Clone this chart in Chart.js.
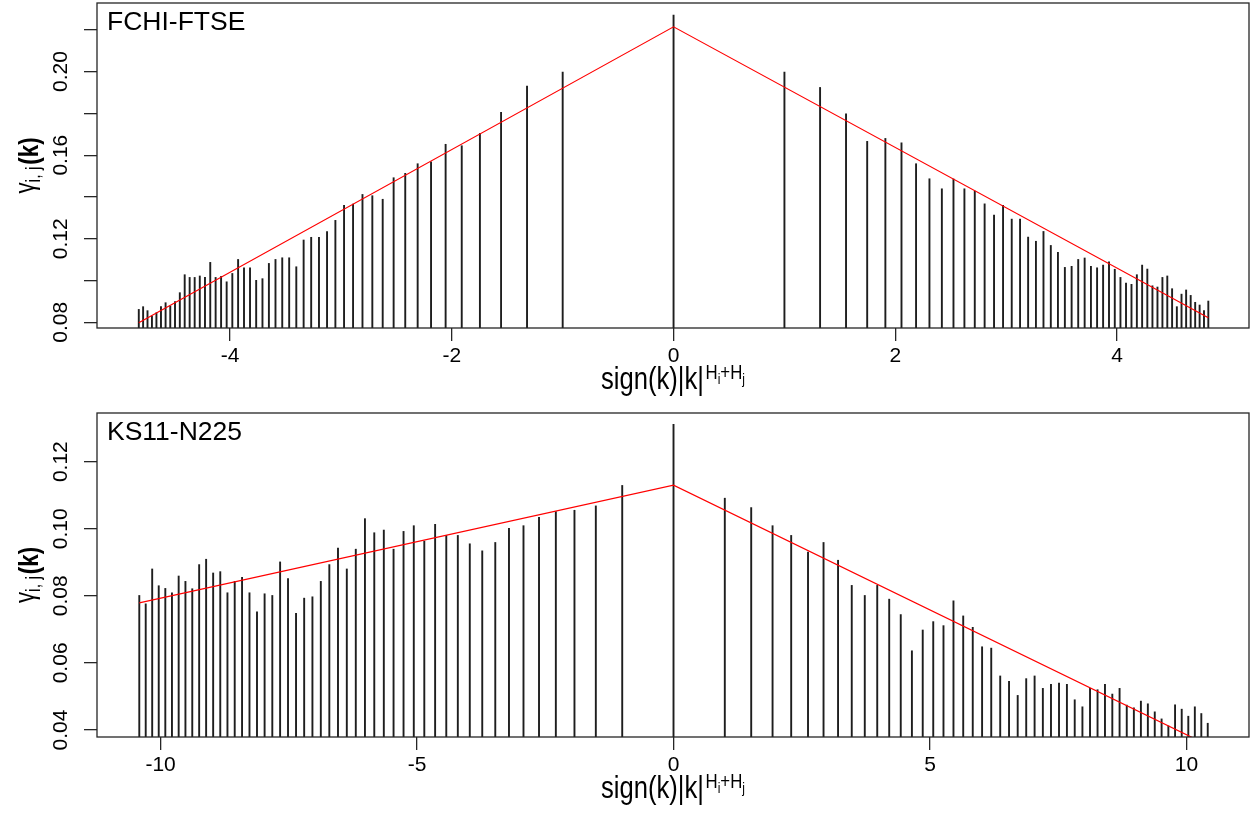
<!DOCTYPE html>
<html><head><meta charset="utf-8">
<script src="https://cdn.jsdelivr.net/npm/chart.js@4.4.0/dist/chart.umd.min.js"></script>
<style>
html,body{margin:0;padding:0;background:#fff;}
#wrap{position:relative;width:1253px;height:813px;background:#fff;overflow:hidden}
.pane{position:absolute;left:0;width:1253px}
canvas{display:block}
</style></head><body>
<div id="wrap">
<div class="pane" style="top:0;height:406px"><canvas id="c1" width="1253" height="406"></canvas></div>
<div class="pane" style="top:406px;height:407px"><canvas id="c2" width="1253" height="407"></canvas></div>
</div>
<script>
// ---- data ----
const lags = Array.from({length: 101}, (_, i) => i - 50);   // k = -50 .. 50

// panel 1: FCHI-FTSE
const panel1Name = 'FCHI-FTSE';
const panel1Exponent = 0.4022;   // H_i + H_j
const panel1Gamma = [
  0.0862,0.0875,0.0856,0.0830,0.0846,0.0875,0.0894,0.0878,0.0899,0.0942,
  0.1028,0.1015,0.1015,0.1022,0.1015,0.1087,0.1015,0.1020,0.0994,0.1034,
  0.1101,0.1061,0.1061,0.1001,0.1009,0.1082,0.1101,0.1109,0.1109,0.1066,
  0.1194,0.1207,0.1207,0.1234,0.1288,0.1360,0.1366,0.1412,0.1406,0.1389,
  0.1492,0.1513,0.1559,0.1568,0.1652,0.1645,0.1704,0.1805,0.1931,0.1998,
  0.2270,
  0.1998,0.1924,0.1798,0.1666,0.1680,0.1659,0.1559,0.1487,0.1439,0.1486,
  0.1439,0.1428,0.1367,0.1313,0.1360,0.1294,0.1294,0.1208,0.1188,0.1235,
  0.1168,0.1135,0.1063,0.1068,0.1101,0.1108,0.1068,0.1061,0.1074,0.1089,
  0.1054,0.1015,0.0988,0.0982,0.1028,0.1074,0.1055,0.0975,0.0969,0.1015,
  0.1022,0.0961,0.0875,0.0935,0.0955,0.0929,0.0896,0.0883,0.0856,0.0902
];
const panel1FitLags = [-50, 0, 50];
const panel1Fit = [0.0798, 0.2214, 0.0822];
const panel1XTicks = [-4, -2, 0, 2, 4];
const panel1XLabels = ['-4', '-2', '0', '2', '4'];
const panel1YTicks = [0.08, 0.10, 0.12, 0.14, 0.16, 0.18, 0.20, 0.22];
const panel1YLabels = ['0.08', '', '0.12', '', '0.16', '', '0.20', ''];

// panel 2: KS11-N225
const panel2Name = 'KS11-N225';
const panel2Exponent = 0.599;
const panel2Gamma = [
  0.0801,0.0776,0.0880,0.0830,0.0822,0.0809,0.0859,0.0843,0.0821,0.0893,
  0.0909,0.0868,0.0872,0.0809,0.0843,0.0855,0.0809,0.0752,0.0806,0.0801,
  0.0901,0.0851,0.0748,0.0793,0.0797,0.0843,0.0893,0.0942,0.0880,0.0939,
  0.1030,0.0988,0.0996,0.0939,0.0992,0.1009,0.0963,0.1013,0.0980,0.0980,
  0.0955,0.0934,0.0959,0.1001,0.1009,0.1034,0.1051,0.1055,0.1068,0.1129,
  0.1311,
  0.1091,0.1063,0.1009,0.0980,0.0930,0.0959,0.0906,0.0831,0.0801,0.0831,
  0.0790,0.0744,0.0636,0.0698,0.0723,0.0711,0.0785,0.0740,0.0706,0.0648,
  0.0644,0.0561,0.0545,0.0503,0.0553,0.0561,0.0524,0.0536,0.0540,0.0536,
  0.0490,0.0469,0.0524,0.0520,0.0536,0.0507,0.0524,0.0474,0.0466,0.0486,
  0.0478,0.0454,0.0433,0.0412,0.0475,0.0462,0.0441,0.0469,0.0449,0.0420
];
const panel2FitLags = [-50, 0, 50];
const panel2Fit = [0.0779, 0.1130, 0.0355];
const panel2XTicks = [-10, -5, 0, 5, 10];
const panel2XLabels = ['-10', '-5', '0', '5', '10'];
const panel2YTicks = [0.04, 0.06, 0.08, 0.10, 0.12];
const panel2YLabels = ['0.04', '0.06', '0.08', '0.10', '0.12'];

// ---- rendering ----
const FAM = "'Liberation Sans', Arial, Helvetica, sans-serif";
const AXIS_COL = '#262626';

function lagToX(k, h) { return Math.sign(k) * Math.pow(Math.abs(k), h); }

const framePlugin = {
  id: 'frameAndText',
  afterDraw(chart) {
    const ctx = chart.ctx, a = chart.chartArea, o = chart.options.plugins.frameAndText;
    ctx.save();
    ctx.strokeStyle = AXIS_COL;
    ctx.lineWidth = 1.3;
    ctx.strokeRect(a.left, a.top, a.right - a.left, a.bottom - a.top);
    ctx.fillStyle = '#000';
    ctx.font = '26.5px ' + FAM;
    ctx.textBaseline = 'alphabetic';
    ctx.textAlign = 'left';
    ctx.fillText(o.name, a.left + 10, o.nameBaseline);
    ctx.restore();
    drawXlab(ctx, (a.left + a.right) / 2, a.bottom + 61);
    drawYlab(ctx, 38, (a.top + a.bottom) / 2);
  }
};

function drawXlab(ctx, cx, base) {
  ctx.save();
  ctx.fillStyle = '#000';
  ctx.textBaseline = 'alphabetic';
  ctx.textAlign = 'left';
  const sx = 0.8;
  const fMain = '32px ' + FAM, fSup = '21px ' + FAM, fSub = '15px ' + FAM;
  ctx.font = fMain; const wMain = ctx.measureText('sign(k)|k|').width;
  ctx.font = fSup; const wH = ctx.measureText('H').width, wP = ctx.measureText('+').width;
  ctx.font = fSub; const wi = ctx.measureText('i').width, wj = ctx.measureText('j').width;
  const gap = 2;
  const total = wMain + gap + wH + wi + wP + wH + wj;
  ctx.translate(cx, base);
  ctx.scale(sx, 1);
  let x = -total / 2;
  ctx.font = fMain; ctx.fillText('sign(k)|k|', x, 0); x += wMain + gap;
  ctx.font = fSup; ctx.fillText('H', x, -10); x += wH;
  ctx.font = fSub; ctx.fillText('i', x, -5); x += wi;
  ctx.font = fSup; ctx.fillText('+', x, -10); x += wP;
  ctx.fillText('H', x, -10); x += wH;
  ctx.font = fSub; ctx.fillText('j', x, -5);
  ctx.restore();
}

function drawYlab(ctx, bx, cy) {
  ctx.save();
  ctx.fillStyle = '#000';
  ctx.textBaseline = 'alphabetic';
  ctx.textAlign = 'left';
  const fG = '28px ' + FAM, fSub = '20px ' + FAM, fMain = 'bold 28px ' + FAM;
  ctx.font = fG; const wg = ctx.measureText('\u03B3').width;
  ctx.font = fSub; const ws = ctx.measureText('i, j').width;
  ctx.font = fMain; const wk = ctx.measureText('(k)').width;
  const total = wg + ws + wk + 2;
  ctx.translate(bx, cy);
  ctx.rotate(-Math.PI / 2);
  ctx.scale(0.8, 1);
  let x = -total / 2;
  ctx.font = fG; ctx.fillText('\u03B3', x, -4); x += wg;
  ctx.font = fSub; ctx.fillText('i, j', x, 2); x += ws + 2;
  ctx.font = fMain; ctx.fillText('(k)', x, 0);
  ctx.restore();
}

function makePanel(canvas, p) {
  const spikes = lags.map((k, i) => ({x: lagToX(k, p.h), y: p.gamma[i]}));
  const fit = p.fitLags.map((k, i) => ({x: lagToX(k, p.h), y: p.fit[i]}));
  return new Chart(canvas, {
    type: 'bar',
    data: {
      datasets: [
        {type: 'line', data: fit, borderColor: '#ff0000', borderWidth: 1.2, pointRadius: 0,
         fill: false, tension: 0, order: 0, clip: 0},
        {type: 'bar', data: spikes, backgroundColor: '#1e1e1e', borderWidth: 0,
         barThickness: 1.25, base: p.yMin, order: 1, clip: 0}
      ]
    },
    options: {
      responsive: false, animation: false, devicePixelRatio: 1,
      layout: {padding: {top: p.padTop, right: 4, left: 0, bottom: 0}},
      plugins: {
        legend: {display: false}, tooltip: {enabled: false},
        frameAndText: {name: p.name, nameBaseline: p.nameBaseline}
      },
      scales: {
        x: {
          type: 'linear', min: p.xMin, max: p.xMax, offset: false,
          afterBuildTicks: s => { s.ticks = p.xTicks.map(v => ({value: v})); },
          afterFit: s => { s.height = p.xAxisH; s.paddingLeft = 0; s.paddingRight = 0; },
          grid: {offset: false, drawOnChartArea: false, drawTicks: true, tickLength: 13,
                 color: AXIS_COL, lineWidth: 1.3},
          border: {display: false},
          ticks: {autoSkip: false, minRotation: 0, maxRotation: 0, padding: 3, color: '#000',
                  font: {family: FAM, size: 21}, callback: (v, i) => p.xLabels[i]}
        },
        y: {
          type: 'linear', min: p.yMin, max: p.yMax,
          afterBuildTicks: s => { s.ticks = p.yTicks.map(v => ({value: v})); },
          afterFit: s => { s.width = 97; s.paddingTop = 0; s.paddingBottom = 0; },
          grid: {drawOnChartArea: false, drawTicks: true, tickLength: 13,
                 color: AXIS_COL, lineWidth: 1.3},
          border: {display: false},
          ticks: {autoSkip: false, minRotation: 90, maxRotation: 90, crossAlign: 'center',
                  padding: 2, color: '#000', font: {family: FAM, size: 21},
                  callback: (v, i) => p.yLabels[i]}
        }
      }
    },
    plugins: [framePlugin]
  });
}

makePanel(document.getElementById('c1'), {
  name: panel1Name, h: panel1Exponent, gamma: panel1Gamma, fitLags: panel1FitLags, fit: panel1Fit,
  xTicks: panel1XTicks, xLabels: panel1XLabels, yTicks: panel1YTicks, yLabels: panel1YLabels,
  xMin: -5.2, xMax: 5.19, yMin: 0.0773, yMax: 0.2328, padTop: 3, xAxisH: 78, nameBaseline: 30
});
makePanel(document.getElementById('c2'), {
  name: panel2Name, h: panel2Exponent, gamma: panel2Gamma, fitLags: panel2FitLags, fit: panel2Fit,
  xTicks: panel2XTicks, xLabels: panel2XLabels, yTicks: panel2YTicks, yLabels: panel2YLabels,
  xMin: -11.24, xMax: 11.22, yMin: 0.0379, yMax: 0.1345, padTop: 7, xAxisH: 76, nameBaseline: 34
});
</script>
</body></html>
